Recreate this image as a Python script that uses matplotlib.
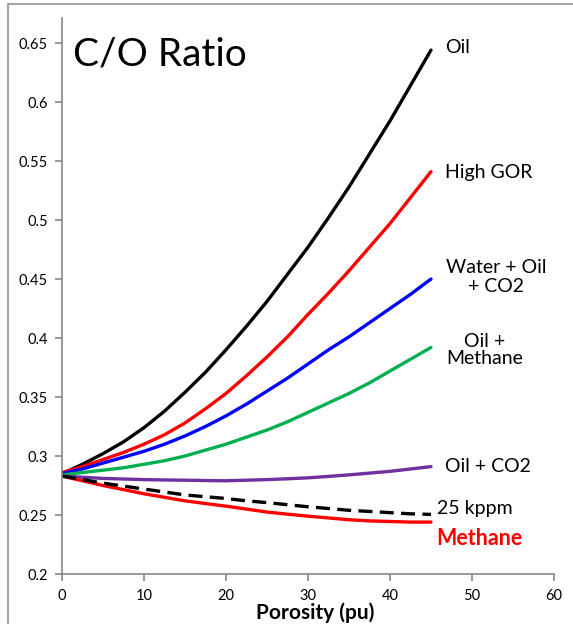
import matplotlib
matplotlib.use("Agg")
import matplotlib.pyplot as plt
from matplotlib.lines import Line2D

plt.rcParams['font.family'] = ['Lato', 'DejaVu Sans']

porosity = [0, 2.5, 5, 7.5, 10, 12.5, 15, 17.5, 20, 22.5, 25, 27.5, 30, 32.5, 35, 37.5, 40, 42.5, 45]
oil = [0.285, 0.293, 0.302, 0.312, 0.324, 0.338, 0.354, 0.371, 0.390, 0.410, 0.431, 0.454,
       0.477, 0.502, 0.528, 0.556, 0.584, 0.614, 0.644]
high_gor = [0.286, 0.291, 0.297, 0.303, 0.310, 0.318, 0.328, 0.340, 0.353, 0.368, 0.384, 0.401,
            0.420, 0.438, 0.457, 0.477, 0.497, 0.519, 0.541]
water_oil_co2 = [0.285, 0.289, 0.294, 0.299, 0.304, 0.310, 0.317, 0.325, 0.334, 0.344, 0.355, 0.366,
                 0.378, 0.390, 0.401, 0.413, 0.425, 0.437, 0.450]
oil_methane = [0.284, 0.286, 0.288, 0.290, 0.293, 0.296, 0.300, 0.305, 0.310, 0.316, 0.322, 0.329,
               0.337, 0.345, 0.353, 0.362, 0.372, 0.382, 0.392]
oil_co2 = [0.283, 0.282, 0.281, 0.2805, 0.280, 0.2797, 0.2795, 0.2792, 0.279, 0.2795, 0.280, 0.2807,
           0.2815, 0.2827, 0.284, 0.2855, 0.287, 0.289, 0.291]
kppm25 = [0.283, 0.280, 0.277, 0.2745, 0.272, 0.2695, 0.267, 0.2655, 0.264, 0.262, 0.2605, 0.2587,
          0.257, 0.2555, 0.254, 0.253, 0.252, 0.251, 0.2505]
methane = [0.283, 0.279, 0.275, 0.2715, 0.268, 0.265, 0.262, 0.2597, 0.2575, 0.255, 0.2525, 0.2507,
           0.249, 0.2475, 0.246, 0.245, 0.2445, 0.244, 0.244]

x_ticks = [0, 10, 20, 30, 40, 50, 60]
y_ticks = [0.2, 0.25, 0.3, 0.35, 0.4, 0.45, 0.5, 0.55, 0.6, 0.65]
y_tick_labels = ["0.2", "0.25", "0.3", "0.35", "0.4", "0.45", "0.5", "0.55", "0.6", "0.65"]

fig = plt.figure(figsize=(5.73, 6.24), dpi=100)
ax = fig.add_axes([62/573, 50/624, (554-62)/573, (574-18)/624])

lw = 2.4
kw = dict(lw=lw, solid_joinstyle='round', solid_capstyle='round')
ax.plot(porosity, oil, color='black', **kw)
ax.plot(porosity, high_gor, color='#ff0000', **kw)
ax.plot(porosity, water_oil_co2, color='#0000ff', **kw)
ax.plot(porosity, oil_methane, color='#00b050', **kw)
ax.plot(porosity, oil_co2, color='#7030a0', **kw)
ax.plot(porosity, methane, color='#ff0000', **kw)
ax.plot(porosity, kppm25, color='black', lw=lw, dashes=(4.2, 2.2), dash_capstyle='butt')

ax.set_xlim(0, 60)
ax.set_ylim(0.2, 0.6712)
ax.set_xticks(x_ticks)
ax.set_yticks(y_ticks)
ax.set_yticklabels(y_tick_labels)

for s in ['top', 'right']:
    ax.spines[s].set_visible(False)
for s in ['left', 'bottom']:
    ax.spines[s].set_color('#868686')
    ax.spines[s].set_linewidth(1.2)
ax.tick_params(axis='both', colors='#868686', length=5, width=1.2, labelcolor='black', labelsize=10.5)
ax.tick_params(axis='y', pad=5)
ax.tick_params(axis='x', pad=6)

ax.set_xlabel("Porosity (pu)", fontsize=15, fontweight='bold')
ax.xaxis.set_label_coords(0.514, -0.0505, transform=ax.transAxes)
ax.xaxis.label.set_va('top')

ax.text(1.3, 0.6405, "C/O Ratio", fontsize=28, va='center', ha='left')

fs = 14
ax.text(46.7, 0.6466, "Oil", fontsize=fs, va='center', ha='left')
ax.text(46.7, 0.540, "High GOR", fontsize=fs, va='center', ha='left')
ax.text(52.9, 0.4515, "Water + Oil\n+ CO2", fontsize=fs, va='center', ha='center', linespacing=1.12)
ax.text(51.6, 0.3900, "Oil +\nMethane", fontsize=fs, va='center', ha='center', linespacing=1.02)
ax.text(46.7, 0.2915, "Oil + CO2", fontsize=fs, va='center', ha='left')
ax.text(45.7, 0.2559, "25 kppm", fontsize=fs, va='center', ha='left')
ax.text(45.7, 0.2305, "Methane", fontsize=15.5, va='center', ha='left', color='#ff0000', fontweight='bold')

# outer frame (partially cropped)
border = '#a6a6a6'
fig.add_artist(Line2D([8/573, 1.0], [1 - 4/624, 1 - 4/624], transform=fig.transFigure, color=border, lw=1.5))
fig.add_artist(Line2D([8/573, 8/573], [0.0, 1 - 4/624], transform=fig.transFigure, color=border, lw=1.5))

fig.savefig("out.png", dpi=100)
